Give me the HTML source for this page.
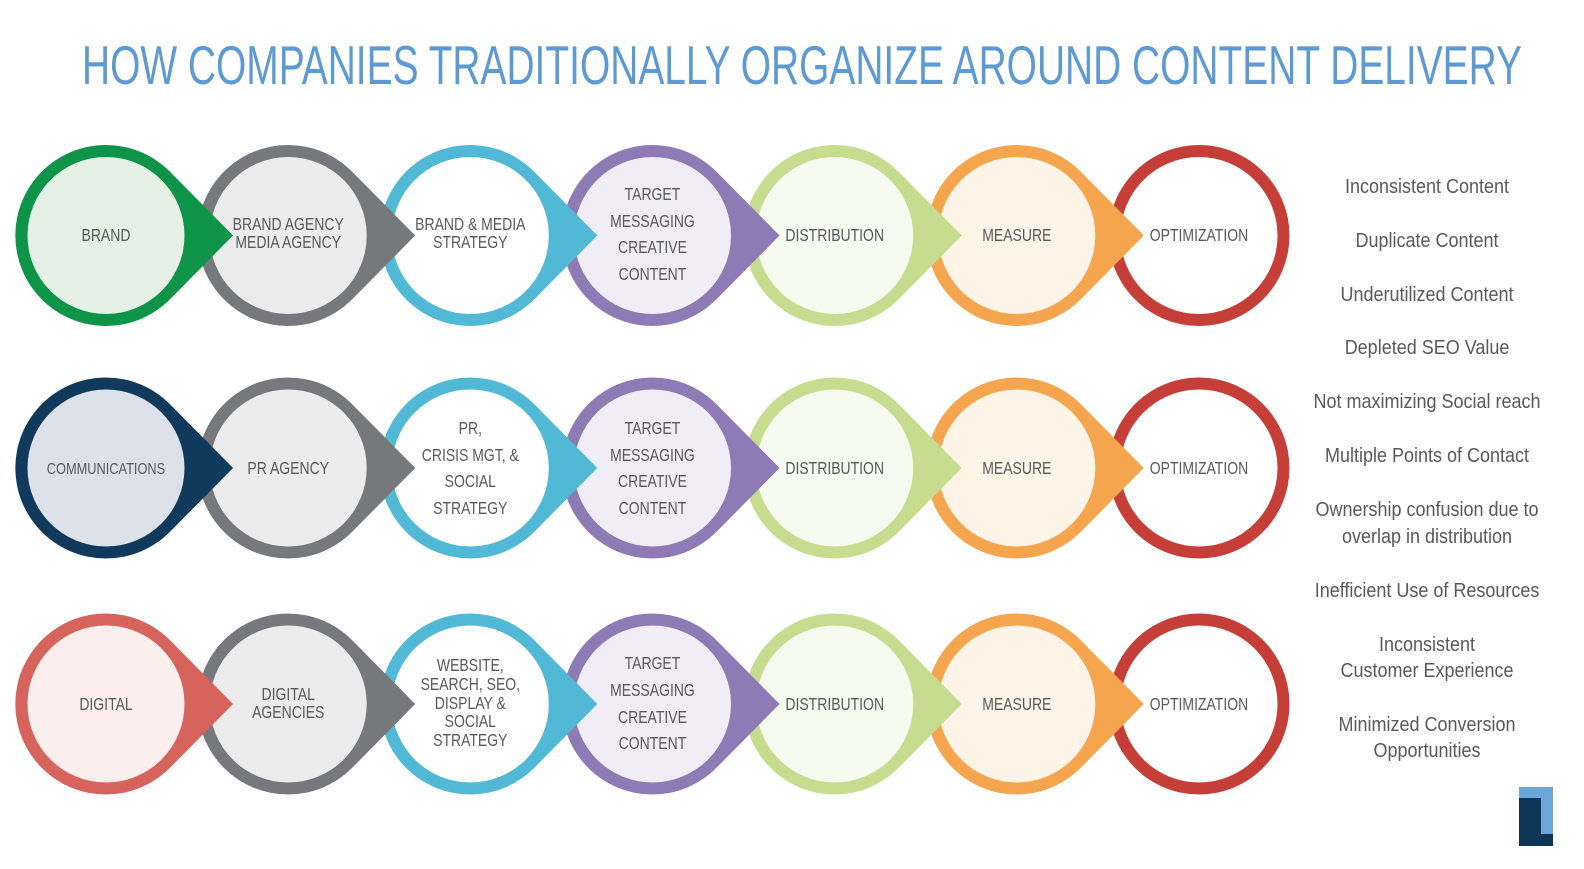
<!DOCTYPE html>
<html><head><meta charset="utf-8"><style>
html,body{margin:0;padding:0;background:#fff;overflow:hidden;width:1584px;height:869px;}
svg{display:block;}
text{font-family:"Liberation Sans",sans-serif;fill:#58595b;}
</style></head><body>
<svg width="1584" height="869" viewBox="0 0 1584 869" xmlns="http://www.w3.org/2000/svg">
<defs>
<path id="t" d="M63.9,-63.9 L127,0 L63.9,63.9 A90.5,90.5 0 1 1 63.9,-63.9 Z"/>
</defs>
<text x="802" y="84" text-anchor="middle" font-size="55" textLength="1440" lengthAdjust="spacingAndGlyphs" style="fill:#5d9ad3">HOW COMPANIES TRADITIONALLY ORGANIZE AROUND CONTENT DELIVERY</text>

<g transform="translate(0,235.5)">
<circle cx="1199" cy="0" r="90.5" fill="#c53f38"/><circle cx="1199" cy="0" r="78.5" fill="#fff"/>
<use href="#t" x="1016.8" fill="#f5a54e"/><circle cx="1016.8" cy="0" r="78.5" fill="#fef3e7"/>
<use href="#t" x="834.7" fill="#c6dd90"/><circle cx="834.7" cy="0" r="78.5" fill="#f6faef"/>
<use href="#t" x="652.5" fill="#8e7ab4"/><circle cx="652.5" cy="0" r="78.5" fill="#f0edf6"/>
<use href="#t" x="470.3" fill="#51b9d5"/><circle cx="470.3" cy="0" r="78.5" fill="#fff"/>
<use href="#t" x="288.2" fill="#77787b"/><circle cx="288.2" cy="0" r="78.5" fill="#ececed"/>
<use href="#t" x="106" fill="#0e9448"/><circle cx="106" cy="0" r="78.5" fill="#e6f1e6"/>
</g>
<g transform="translate(0,468)">
<circle cx="1199" cy="0" r="90.5" fill="#c53f38"/><circle cx="1199" cy="0" r="78.5" fill="#fff"/>
<use href="#t" x="1016.8" fill="#f5a54e"/><circle cx="1016.8" cy="0" r="78.5" fill="#fef3e7"/>
<use href="#t" x="834.7" fill="#c6dd90"/><circle cx="834.7" cy="0" r="78.5" fill="#f6faef"/>
<use href="#t" x="652.5" fill="#8e7ab4"/><circle cx="652.5" cy="0" r="78.5" fill="#f0edf6"/>
<use href="#t" x="470.3" fill="#51b9d5"/><circle cx="470.3" cy="0" r="78.5" fill="#fff"/>
<use href="#t" x="288.2" fill="#77787b"/><circle cx="288.2" cy="0" r="78.5" fill="#ececed"/>
<use href="#t" x="106" fill="#0f3a5c"/><circle cx="106" cy="0" r="78.5" fill="#dde1ea"/>
</g>
<g transform="translate(0,704)">
<circle cx="1199" cy="0" r="90.5" fill="#c53f38"/><circle cx="1199" cy="0" r="78.5" fill="#fff"/>
<use href="#t" x="1016.8" fill="#f5a54e"/><circle cx="1016.8" cy="0" r="78.5" fill="#fef3e7"/>
<use href="#t" x="834.7" fill="#c6dd90"/><circle cx="834.7" cy="0" r="78.5" fill="#f6faef"/>
<use href="#t" x="652.5" fill="#8e7ab4"/><circle cx="652.5" cy="0" r="78.5" fill="#f0edf6"/>
<use href="#t" x="470.3" fill="#51b9d5"/><circle cx="470.3" cy="0" r="78.5" fill="#fff"/>
<use href="#t" x="288.2" fill="#77787b"/><circle cx="288.2" cy="0" r="78.5" fill="#ececed"/>
<use href="#t" x="106" fill="#d6645c"/><circle cx="106" cy="0" r="78.5" fill="#fbeeed"/>
</g>

<g font-size="17.5" text-anchor="middle" transform="scale(0.8,1)">
<text x="132.5" y="241">BRAND</text>
<text x="360.3" y="230">BRAND AGENCY</text><text x="360.3" y="248">MEDIA AGENCY</text>
<text x="587.9" y="230">BRAND &amp; MEDIA</text><text x="587.9" y="248">STRATEGY</text>
<text x="815.6" y="200">TARGET</text><text x="815.6" y="227">MESSAGING</text><text x="815.6" y="253">CREATIVE</text><text x="815.6" y="280">CONTENT</text>
<text x="1043.4" y="241">DISTRIBUTION</text>
<text x="1271" y="241">MEASURE</text>
<text x="1498.75" y="241">OPTIMIZATION</text>

<text x="132.5" y="474" font-size="16">COMMUNICATIONS</text>
<text x="360.3" y="474">PR AGENCY</text>
<text x="587.9" y="434">PR,</text><text x="587.9" y="461">CRISIS MGT, &amp;</text><text x="587.9" y="487">SOCIAL</text><text x="587.9" y="514">STRATEGY</text>
<text x="815.6" y="434">TARGET</text><text x="815.6" y="461">MESSAGING</text><text x="815.6" y="487">CREATIVE</text><text x="815.6" y="514">CONTENT</text>
<text x="1043.4" y="474">DISTRIBUTION</text>
<text x="1271" y="474">MEASURE</text>
<text x="1498.75" y="474">OPTIMIZATION</text>

<text x="132.5" y="710">DIGITAL</text>
<text x="360.3" y="700">DIGITAL</text><text x="360.3" y="718">AGENCIES</text>
<text x="587.9" y="671">WEBSITE,</text><text x="587.9" y="690">SEARCH, SEO,</text><text x="587.9" y="709">DISPLAY &amp;</text><text x="587.9" y="727">SOCIAL</text><text x="587.9" y="746">STRATEGY</text>
<text x="815.6" y="669">TARGET</text><text x="815.6" y="696">MESSAGING</text><text x="815.6" y="723">CREATIVE</text><text x="815.6" y="749">CONTENT</text>
<text x="1043.4" y="710">DISTRIBUTION</text>
<text x="1271" y="710">MEASURE</text>
<text x="1498.75" y="710">OPTIMIZATION</text>
</g>

<g font-size="20" text-anchor="middle" transform="scale(0.9,1)">
<text x="1585.6" y="193">Inconsistent Content</text>
<text x="1585.6" y="247">Duplicate Content</text>
<text x="1585.6" y="301">Underutilized Content</text>
<text x="1585.6" y="354">Depleted SEO Value</text>
<text x="1585.6" y="408">Not maximizing Social reach</text>
<text x="1585.6" y="462">Multiple Points of Contact</text>
<text x="1585.6" y="516">Ownership confusion due to</text>
<text x="1585.6" y="543">overlap in distribution</text>
<text x="1585.6" y="597">Inefficient Use of Resources</text>
<text x="1585.6" y="651">Inconsistent</text>
<text x="1585.6" y="677">Customer Experience</text>
<text x="1585.6" y="731">Minimized Conversion</text>
<text x="1585.6" y="757">Opportunities</text>
</g>

<rect x="1519" y="787" width="34" height="47" fill="#6aa8dc"/>
<rect x="1519" y="798" width="22" height="48" fill="#0f3556"/>
<rect x="1519" y="834" width="34" height="12" fill="#0f3556"/>
</svg>
</body></html>
